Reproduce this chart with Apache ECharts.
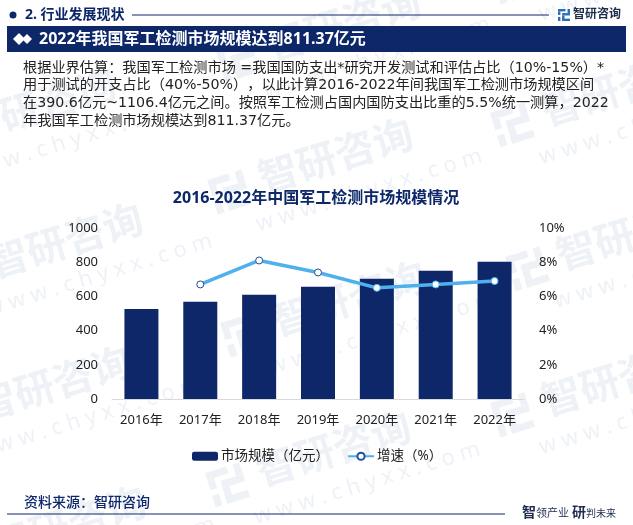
<!DOCTYPE html>
<html>
<head>
<meta charset="utf-8">
<style>html,body,canvas{margin:0;padding:0;background:#fff;text-spacing-trim:space-all;font-kerning:none}#chart{width:633px;height:525px}</style>
<script src="https://cdn.jsdelivr.net/npm/echarts@6/dist/echarts.min.js"></script>
</head>
<body>
<div id="chart"></div>
<script>
const years = ['2016年', '2017年', '2018年', '2019年', '2020年', '2021年', '2022年'];
const marketSize = [527, 568, 609, 656, 703, 750, 803];
const growth = [null, 6.7, 8.1, 7.4, 6.5, 6.7, 6.9];
const bodyLines = [
  '根据业界估算：我国军工检测市场 =我国国防支出*研究开发测试和评估占比（10%-15%）*',
  '用于测试的开支占比（40%-50%），以此计算2016-2022年间我国军工检测市场规模区间',
  '在390.6亿元~1106.4亿元之间。按照军工检测占国内国防支出比重的5.5%统一测算，2022',
  '年我国军工检测市场规模达到811.37亿元。'
];
const marks = [[215, 48], [490, -30], [490, 113], [207, 180], [505, 257], [220, 323], [490, 403], [205, 473], [-90, 130], [-63, 265], [-75, 408], [-60, 548]];

const font = '"Noto Sans", "Noto Sans CJK SC", sans-serif';
const bodyFont = '"DejaVu Sans", "Noto Sans CJK SC", sans-serif';
const navy = '#0d2769';
const faint = '#eef2f7';

function logo(x, y, s, color) {
  return [
    [0, 0, 0.62, 0.2], [0, 0.2, 0.2, 0.3], [0.34, 0.34, 0.66, 0.2], [0.8, 0, 0.2, 0.34],
    [0, 0.66, 0.2, 0.34], [0.34, 0.54, 0.2, 0.46], [0.34, 0.8, 0.66, 0.2]
  ].map(function (r) {
    return { type: 'rect', x: x, y: y, shape: { x: r[0] * s, y: r[1] * s, width: r[2] * s, height: r[3] * s }, style: { fill: color }, silent: true };
  });
}

function text(x, y, str, size, color, weight, align, family) {
  return { type: 'text', x: x, y: y, silent: true, style: { text: str, fill: color, font: (weight || 'normal') + ' ' + size + 'px ' + (family || font), textAlign: align || 'left', textVerticalAlign: 'middle' } };
}

const watermarks = marks.map(function (m) {
  return {
    type: 'group', x: m[0], y: m[1], rotation: 0.3, silent: true, z: -10,
    children: logo(0, 0, 36, faint).concat([
      text(50, 18, '智研咨询', 40, faint, 'bold'),
      text(34, 58, 'w w w . c h y x x . c o m', 22, faint)
    ])
  };
});

const decorations = [
  { type: 'circle', shape: { cx: 13, cy: 15, r: 3.5 }, style: { fill: navy } },
  text(25, 15, '2. 行业发展现状', 14, navy, 'bold'),
  { type: 'line', shape: { x1: 132, y1: 15, x2: 549, y2: 15 }, style: { stroke: navy, lineWidth: 1 } },
  text(573, 15, '智研咨询', 12, '#1f2d4d', 'bold'),
  { type: 'rect', shape: { x: 7, y: 26, width: 619, height: 26 }, style: { fill: navy } },
  { type: 'polygon', shape: { points: [[13, 39], [19, 33], [25, 39], [19, 45]] }, style: { fill: '#fff' } },
  { type: 'polygon', shape: { points: [[22, 39], [27, 34], [32, 39], [27, 44]] }, style: { fill: '#fff' } },
  text(39, 39, '2022年我国军工检测市场规模达到811.37亿元', 16, '#fff', 'bold'),
  text(316, 198, '2016-2022年中国军工检测市场规模情况', 16, navy, 'bold', 'center'),
  text(24, 503, '资料来源：智研咨询', 14, navy, '500'),
  { type: 'line', shape: { x1: 7, y1: 514, x2: 505, y2: 514 }, style: { stroke: navy, lineWidth: 1 } },
  text(522, 513, '智', 14, '#1f2d4d', 'bold'),
  text(536, 514, '领产业', 11, '#1f2d4d'),
  text(572, 513, '研', 14, '#1f2d4d', 'bold'),
  text(586, 514, '判未来', 10, '#1f2d4d')
].concat(logo(558, 9, 12, '#2a6fb5'));

const bodyText = bodyLines.map(function (line, i) {
  return text(23, 68 + i * 17.7, line, 14.2, '#222222', 'normal', 'left', bodyFont);
});

const chart = echarts.init(document.getElementById('chart'), null, { renderer: 'canvas' });

chart.setOption({
  animation: false,
  backgroundColor: '#fff',
  textStyle: { fontFamily: font },
  graphic: { elements: watermarks.concat(decorations, bodyText) },
  grid: { left: 112, right: 109, top: 228, bottom: 126 },
  legend: {
    bottom: 57,
    left: 187,
    itemWidth: 26,
    itemHeight: 9,
    itemGap: 18,
    textStyle: { fontSize: 13.5, color: '#222', fontFamily: font, padding: [0, 0, 0, -2] },
    data: ['市场规模（亿元）', '增速（%）']
  },
  xAxis: {
    type: 'category',
    data: years,
    axisTick: { show: false },
    axisLine: { lineStyle: { color: '#d9d9d9' } },
    axisLabel: { fontSize: 13, color: '#222', margin: 15 }
  },
  yAxis: [{
    type: 'value',
    min: 0,
    max: 1000,
    interval: 200,
    splitLine: { show: false },
    axisLabel: { fontSize: 13, color: '#222', margin: 14, formatter: function (v) { return String(v); } }
  }, {
    type: 'value',
    min: 0,
    max: 10,
    interval: 2,
    splitLine: { show: false },
    axisLabel: { fontSize: 13, color: '#222', margin: 15, formatter: '{value}%' }
  }],
  series: [{
    name: '市场规模（亿元）',
    type: 'bar',
    data: marketSize,
    barWidth: 34,
    itemStyle: { color: navy }
  }, {
    name: '增速（%）',
    type: 'line',
    yAxisIndex: 1,
    data: growth.map(function (v, i) {
      return i >= 4 ? { value: v, itemStyle: { borderColor: '#4fb0ee' } } : v;
    }),
    symbol: 'circle',
    symbolSize: 7,
    lineStyle: { color: '#4fb0ee', width: 3.5 },
    itemStyle: { color: '#fff', borderColor: '#1c4f9c', borderWidth: 1 }
  }]
});
</script>
</body>
</html>
